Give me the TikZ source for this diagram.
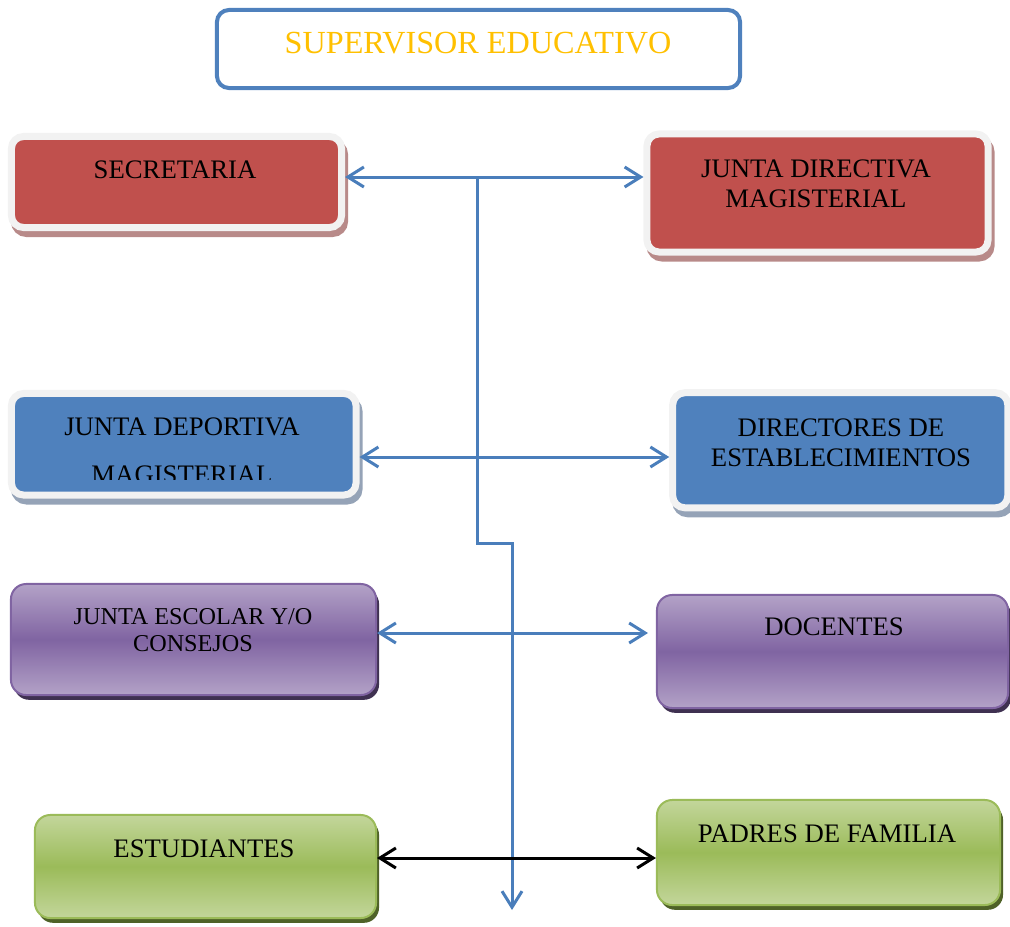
\documentclass[tikz,border=0pt]{standalone}
\usepackage{fontspec}
\setmainfont{Liberation Serif}
\usetikzlibrary{arrows.meta,shadows}

\definecolor{supblue}{HTML}{4F81BD}
\definecolor{linkblue}{HTML}{4A7EBB}
\definecolor{supgold}{HTML}{FFC000}
\definecolor{redfill}{HTML}{C0504D}
\definecolor{redshade}{HTML}{B88A89}
\definecolor{bluefill}{HTML}{4F81BD}
\definecolor{blueshade}{HTML}{95A3B7}
\definecolor{rimgray}{HTML}{F2F2F2}
\definecolor{purplelight}{HTML}{B3A2C7}
\definecolor{purplemid}{HTML}{8064A2}
\definecolor{purpleshade}{HTML}{3F3151}
\definecolor{greenlight}{HTML}{C3D69B}
\definecolor{greenmid}{HTML}{9BBB59}
\definecolor{greenshade}{HTML}{4F6228}

\begin{document}
\begin{tikzpicture}[x=0.025cm,y=-0.025cm,
    >={Straight Barb[length=0.4cm,width=0.5cm]},
    rimbox/.style 2 args={draw=rimgray, fill=#1, line width=0.175cm, rounded corners=0.3cm,
      drop shadow={shadow xshift=0.075cm, shadow yshift=-0.15cm, fill=#2, draw=#2,
        line width=0.175cm, opacity=1}},
    gradbox/.style n args={3}{top color=#1, bottom color=#1, middle color=#2, draw=#2,
      line width=0.05cm, rounded corners=0.38cm,
      drop shadow={shadow xshift=0.075cm, shadow yshift=-0.12cm, fill=#3, opacity=1}},
    boxtext/.style={anchor=base, align=center, inner sep=0pt,
      font=\fontsize{19}{21.3}\selectfont},
    link/.style={draw=linkblue, line width=0.075cm}]
  \useasboundingbox (0,0) rectangle (1010,926);

  \node[draw=supblue, line width=0.1cm, rounded corners=0.3cm, fill=white,
    minimum width=13.075cm, minimum height=1.95cm] (sup) at (478.5,49) {};
  \node[anchor=base, inner sep=0pt, text=supgold, font=\fontsize{22.9}{26}\selectfont]
    (sup-t) at (478,54) {SUPERVISOR EDUCATIVO};

  \node[rimbox={redfill}{redshade}, minimum width=8.25cm, minimum height=2.275cm] (sec) at (176.5,182) {};
  \node[rimbox={redfill}{redshade}, minimum width=8.525cm, minimum height=2.95cm] (jdir) at (817.5,193) {};
  \node[rimbox={bluefill}{blueshade}, minimum width=8.6125cm, minimum height=2.5375cm] (jdep) at (183.75,444.25) {};
  \node[rimbox={bluefill}{blueshade}, minimum width=8.375cm, minimum height=2.875cm] (dir) at (840.25,450.25) {};
  \node[gradbox={purplelight}{purplemid}{purpleshade}, minimum width=9.125cm, minimum height=2.775cm] (jesc) at (193.5,639.5) {};
  \node[gradbox={purplelight}{purplemid}{purpleshade}, minimum width=8.775cm, minimum height=2.825cm] (doc) at (832.5,651.5) {};
  \node[gradbox={greenlight}{greenmid}{greenshade}, minimum width=8.525cm, minimum height=2.575cm] (est) at (205.5,866.5) {};
  \node[gradbox={greenlight}{greenmid}{greenshade}, minimum width=8.575cm, minimum height=2.625cm] (pad) at (828.5,852.5) {};

  \node[boxtext] (sec-t) at (175,178) {SECRETARIA};
  \node[boxtext] (jdir-t) at (816,207) {JUNTA DIRECTIVA\\MAGISTERIAL};
  \begin{scope}
    \clip (0,380) rectangle (400,479);
    \node[boxtext, font=\fontsize{19}{34.1}\selectfont] (jdep-t) at (182,483) {JUNTA DEPORTIVA\\MAGISTERIAL};
  \end{scope}
  \node[boxtext] (dir-t) at (841,466) {DIRECTORES DE\\ESTABLECIMIENTOS};
  \node[boxtext, font=\fontsize{17.2}{19.2}\selectfont] (jesc-t) at (193,651) {JUNTA ESCOLAR Y/O\\CONSEJOS};
  \node[boxtext] (doc-t) at (834,635) {DOCENTES};
  \node[boxtext] (est-t) at (204,857) {ESTUDIANTES};
  \node[boxtext] (pad-t) at (827,842) {PADRES DE FAMILIA};

  \coordinate (top) at (477,177);
  \coordinate (bendA) at (477,543);
  \coordinate (bendB) at (512,543);
  \coordinate (tail) at (512,910);
  \coordinate (row2) at (477,457);
  \coordinate (row3) at (477,633);
  \coordinate (docin) at (648,633);
  \coordinate (row4) at (512,858);

  \draw[link,->] (top) -- (bendA) -- (bendB) -- (tail);
  \draw[link,<->] (sec.east |- top) -- (jdir.west |- top);
  \draw[link,<->] (jdep.east |- row2) -- (dir.west |- row2);
  \draw[link,<->] (jesc.east |- row3) -- (docin);
  \draw[line width=0.075cm,<->] (est.east |- row4) -- (pad.west |- row4);
\end{tikzpicture}
\end{document}
